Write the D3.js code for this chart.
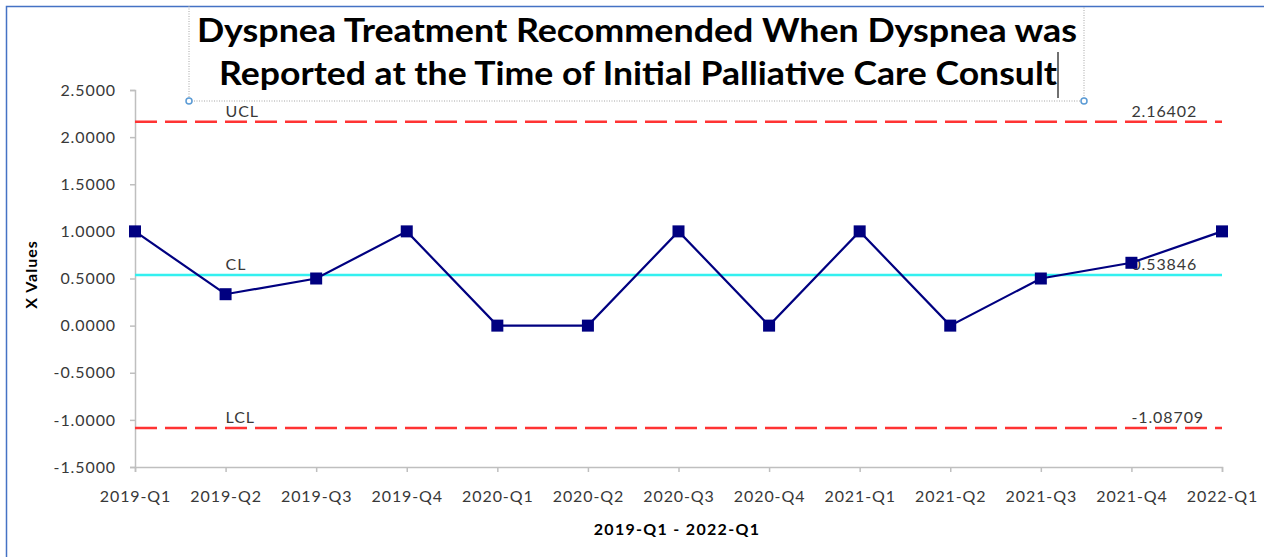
<!DOCTYPE html>
<html>
<head>
<meta charset="utf-8">
<script src="https://cdn.jsdelivr.net/npm/d3@7"></script>
<style>
  body { margin: 0; background: #fff; }
  text { font-family: Lato, "Open Sans", sans-serif; }
</style>
</head>
<body>
<div id="chart"></div>
<script>
// data
const quarters = ["2019-Q1","2019-Q2","2019-Q3","2019-Q4","2020-Q1","2020-Q2","2020-Q3",
                  "2020-Q4","2021-Q1","2021-Q2","2021-Q3","2021-Q4","2022-Q1"];
const xValues = [1, 0.3333, 0.5, 1, 0, 0, 1, 0, 1, 0, 0.5, 0.6667, 1];
const limitNames = ["UCL", "CL", "LCL"];
const limitValues = [2.16402, 0.53846, -1.08709];
const yTicks = [2.5, 2, 1.5, 1, 0.5, 0, -0.5, -1, -1.5];

const W = 1264, H = 557;
const margin = {top: 90, right: 42, bottom: 90, left: 135};
const width = W - margin.left - margin.right,
      height = H - margin.top - margin.bottom;

const svg = d3.select("#chart").append("svg")
  .attr("width", W).attr("height", H);

// chart frame (only top and left visible in the screenshot)
svg.append("path")
  .attr("d", `M6.5,${H} V6.5 H${W}`)
  .attr("fill", "none").attr("stroke", "#4472c4").attr("stroke-width", 1.5);

const g = svg.append("g").attr("transform", `translate(${margin.left},${margin.top})`);

const x = d3.scalePoint().domain(quarters).range([0, width]);
const y = d3.scaleLinear().domain([-1.5, 2.5]).range([height, 0]);

const small = sel => sel.attr("fill", "#383838")
  .style("font-size", "16px").style("letter-spacing", "0.9px");

// excel style: plain hyphen for negatives
const fmt = d => d.toFixed(4);

// axes
const yAxis = g.append("g")
  .call(d3.axisLeft(y).tickValues(yTicks).tickFormat(fmt).tickSize(5).tickPadding(14));
const xAxis = g.append("g")
  .attr("transform", `translate(0,${height})`)
  .call(d3.axisBottom(x).tickSize(5).tickPadding(19));
[yAxis, xAxis].forEach(a => {
  a.select(".domain").attr("stroke", "#bfbfbf").attr("stroke-width", 1.5);
  a.selectAll(".tick line").attr("stroke", "#bfbfbf").attr("stroke-width", 1.5);
  a.selectAll(".tick text").call(small);
});

// control limits
const limitColor = ["#ff3333", "#33f0f0", "#ff3333"];
limitNames.forEach((name, i) => {
  const yy = y(limitValues[i]);
  g.append("line")
    .attr("x1", 0).attr("x2", width).attr("y1", yy).attr("y2", yy)
    .attr("stroke", limitColor[i]).attr("stroke-width", 2.5)
    .attr("stroke-dasharray", name === "CL" ? null : "22,8");
  g.append("text")
    .attr("x", x(quarters[1])).attr("y", yy - 5)
    .call(small).text(name);
  g.append("text")
    .attr("x", x(quarters[11])).attr("y", yy - 5)
    .call(small).text(limitValues[i].toFixed(5));
});

// series
g.append("path")
  .datum(xValues)
  .attr("fill", "none").attr("stroke", "#000080").attr("stroke-width", 2.2)
  .attr("d", d3.line().x((d, i) => x(quarters[i])).y(d => y(d)));

g.selectAll(".pt").data(xValues).enter().append("rect")
  .attr("class", "pt")
  .attr("x", (d, i) => x(quarters[i]) - 6)
  .attr("y", d => y(d) - 6)
  .attr("width", 12).attr("height", 12)
  .attr("fill", "#000080");

// axis titles
svg.append("text")
  .attr("transform", `translate(37,${margin.top + height / 2 - 4}) rotate(-90)`)
  .attr("text-anchor", "middle")
  .style("font-size", "16px").style("font-weight", "bold").style("letter-spacing", "1px")
  .attr("fill", "#000")
  .text("X Values");
svg.append("text")
  .attr("x", 677).attr("y", 535)
  .attr("text-anchor", "middle")
  .style("font-size", "16px").style("font-weight", "bold").style("letter-spacing", "1.3px")
  .attr("fill", "#000")
  .text("2019-Q1 - 2022-Q1");

// title with its selected text box
const box = {x0: 189, x1: 1084, y0: 6, y1: 101};
svg.append("path")
  .attr("d", `M${box.x0},${box.y0} V${box.y1} H${box.x1} V${box.y0}`)
  .attr("fill", "none").attr("stroke", "#a6a6a6").attr("stroke-width", 1)
  .attr("stroke-dasharray", "1,1.5");
[box.x0, box.x1].forEach(cx => {
  svg.append("circle").attr("cx", cx).attr("cy", box.y1).attr("r", 3)
    .attr("fill", "#fff").attr("stroke", "#5b9bd5").attr("stroke-width", 1.5);
});
const titleLines = ["Dyspnea Treatment Recommended When Dyspnea was",
                    "Reported at the Time of Initial Palliative Care Consult"];
const titleSpan = [[197, 1077], [219, 1057]];
titleLines.forEach((t, i) => {
  svg.append("text")
    .attr("x", titleSpan[i][0]).attr("y", 42 + i * 43)
    .attr("textLength", titleSpan[i][1] - titleSpan[i][0])
    .attr("lengthAdjust", "spacingAndGlyphs")
    .style("font-size", "32px").style("font-weight", "bold").attr("fill", "#000")
    .text(t);
});
// text cursor after the title
svg.append("line").attr("x1", 1058).attr("x2", 1058).attr("y1", 52).attr("y2", 98)
  .attr("stroke", "#404040").attr("stroke-width", 1.5);
</script>
</body>
</html>
